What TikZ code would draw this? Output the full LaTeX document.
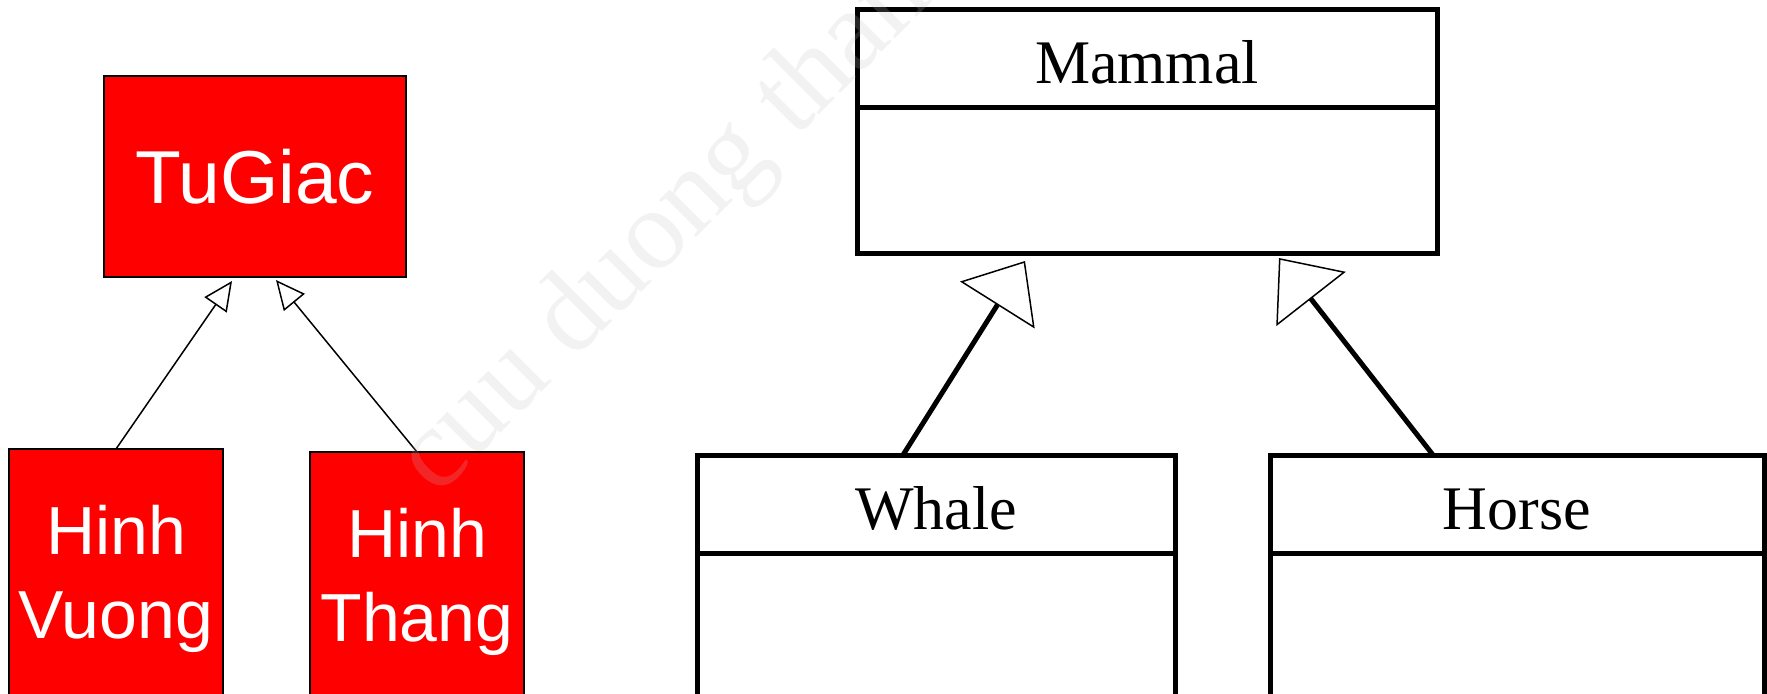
\documentclass[tikz,border=0pt]{standalone}
\usepackage{fontspec}
\setmainfont{Liberation Serif}
\newfontfamily\arialfont{Liberation Sans}
\usetikzlibrary{arrows.meta,positioning}

\begin{document}
\begin{tikzpicture}[auto,x=0.5pt,y=-0.5pt]

        \tikzstyle{redbox}=[shape=rectangle,draw=black,fill=red,line width=0.75pt,inner sep=0pt,outer sep=0pt,align=center,text=white,font=\arialfont\fontsize{34}{42}\selectfont]
        \tikzstyle{umlhead}=[shape=rectangle,draw=black,fill=white,line width=2.5pt,inner sep=0pt,outer sep=0pt,minimum height=49pt,text height=25pt,text depth=0pt,font=\fontsize{31}{37}\selectfont]
        \tikzstyle{umlbody}=[shape=rectangle,draw=black,fill=white,line width=2.5pt,inner sep=0pt,outer sep=0pt]
        \tikzstyle{thin inherit}=[-{Triangle[fill=white,length=14.5pt,width=13.5pt,line width=0.75pt]},line width=0.75pt]
        \tikzstyle{thick inherit}=[-{Triangle[fill=white,length=26pt,width=44pt,line width=0.75pt]},line width=2.5pt]

        \path[use as bounding box] (0,0) rectangle (1767,693);
        \clip (0,0) rectangle (1767,693);

        \node[redbox,minimum width=151pt,minimum height=100.5pt,font=\arialfont\fontsize{37.5}{42}\selectfont] (TG) at (255,176.5) {TuGiac};
        \node[redbox,minimum width=107pt,minimum height=130pt,anchor=north] (HV) at (116,449) {Hinh\\Vuong};
        \node[redbox,minimum width=107pt,minimum height=130pt,anchor=north] (HT) at (417,452) {Hinh\\Thang};

        \node[umlhead,minimum width=290pt,anchor=north] (M) at (1147,9) {Mammal};
        \node[umlbody,minimum width=290pt,minimum height=73pt] (M1) [below=0pt of M] {};
        \node[umlhead,minimum width=239pt,anchor=north] (W) at (936,455) {Whale};
        \node[umlbody,minimum width=239pt,minimum height=80pt] (W1) [below=0pt of W] {};
        \node[umlhead,minimum width=247pt,anchor=north] (H) at (1517,455) {Horse};
        \node[umlbody,minimum width=247pt,minimum height=80pt] (H1) [below=0pt of H] {};

        \path [thin inherit] (HV.north) edge ([shift={(-23,4)}]TG.south);
        \path [thin inherit] (HT.north) edge ([shift={(21,3)}]TG.south);
        \path [thick inherit] ([xshift=-16.5pt]W.north) edge ([shift={(-122,8)}]M1.south);
        \path [thick inherit] ([xshift=-42pt]H.north) edge ([shift={(132,5)}]M1.south);

        % watermark
        \node[rotate=45,anchor=base west,text=white!75!black,text opacity=0.2,font=\fontsize{57}{57}\selectfont] (WM) at (432,502) {cuu duong than cong};
      \end{tikzpicture}
\end{document}
